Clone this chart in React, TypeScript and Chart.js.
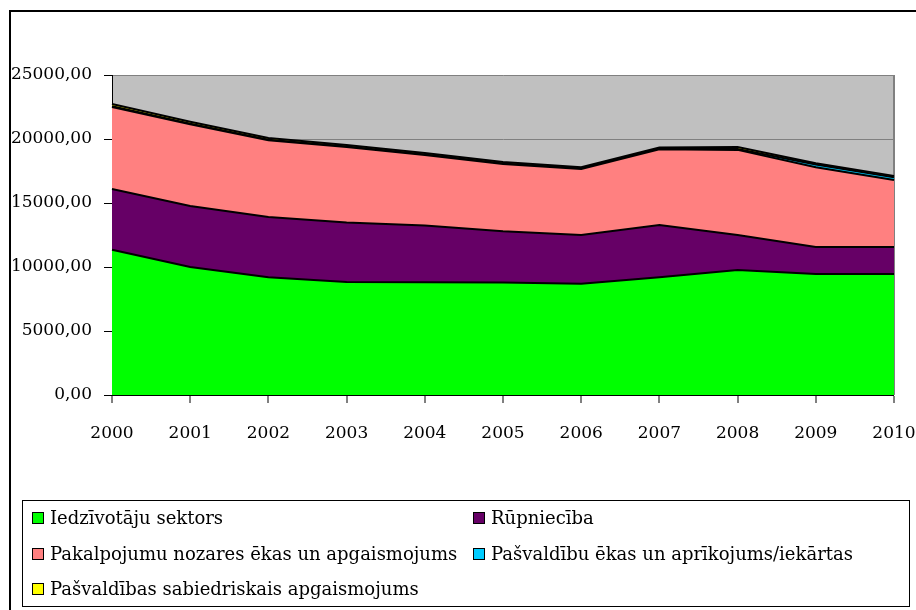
import React, { useEffect, useRef } from "react";
import { Chart, registerables } from "chart.js";

Chart.register(...registerables);

const years = ["2000", "2001", "2002", "2003", "2004", "2005", "2006", "2007", "2008", "2009", "2010"];
const residential = [11350, 10000, 9200, 8820, 8800, 8780, 8700, 9200, 9770, 9450, 9450];
const industry = [4750, 4770, 4700, 4660, 4450, 4020, 3800, 4080, 2730, 2110, 2110];
const services = [6400, 6380, 6000, 5900, 5500, 5250, 5150, 5920, 6650, 6240, 5240];
const municipalBuildings = [60, 50, 50, 40, 40, 40, 40, 30, 60, 200, 220];
const streetLighting = [170, 150, 130, 120, 110, 110, 110, 100, 170, 110, 100];

const seriesLabels = [
  "Iedzīvotāju sektors",
  "Rūpniecība",
  "Pakalpojumu nozares ēkas un apgaismojums",
  "Pašvaldību ēkas un aprīkojums/iekārtas",
  "Pašvaldības sabiedriskais apgaismojums",
];
const seriesColors = ["#00FF00", "#660066", "#FF8080", "#00CCFF", "#FFFF00"];
const seriesValues = [residential, industry, services, municipalBuildings, streetLighting];

const yTicks = [0, 5000, 10000, 15000, 20000, 25000];

const FONT = "'DejaVu Serif', serif";

const framePlugin = {
  id: "frame",
  beforeDraw(chart: any) {
    const { ctx, chartArea } = chart;
    ctx.save();
    ctx.fillStyle = "#ffffff";
    ctx.fillRect(0, 0, chart.width, chart.height);
    ctx.fillStyle = "#C0C0C0";
    ctx.fillRect(chartArea.left, chartArea.top, chartArea.right - chartArea.left, chartArea.bottom - chartArea.top);
    ctx.restore();
  },
  afterDraw(chart: any) {
    const { ctx } = chart;
    ctx.save();
    // outer frame
    ctx.strokeStyle = "#000";
    ctx.lineWidth = 2;
    ctx.strokeRect(10, 11, chart.width + 20, chart.height + 20);
    // legend box
    ctx.lineWidth = 1;
    ctx.strokeStyle = "#000";
    ctx.strokeRect(22.5, 500.5, 887, 106);
    const cols = [32, 473];
    const rows = [518, 554, 589];
    ctx.font = "18px " + FONT;
    ctx.textBaseline = "middle";
    ctx.textAlign = "left";
    chart.data.datasets.forEach((ds: any, i: number) => {
      const x = cols[i % 2];
      const y = rows[Math.floor(i / 2)];
      ctx.fillStyle = ds.backgroundColor;
      ctx.fillRect(x, y - 6, 12, 12);
      ctx.strokeStyle = "#000";
      ctx.strokeRect(x + 0.5, y - 5.5, 11, 11);
      ctx.fillStyle = "#000";
      ctx.fillText(ds.label, x + 18, y + 1);
    });
    ctx.restore();
  },
};

export default function App() {
  const ref = useRef<HTMLCanvasElement>(null);
  useEffect(() => {
    document.body.style.margin = "0";
    const chart = new Chart(ref.current!, {
      type: "line",
      data: {
        labels: years,
        datasets: seriesValues.map((vals, i) => ({
          label: seriesLabels[i],
          data: vals,
          backgroundColor: seriesColors[i],
          borderColor: "#000",
          borderWidth: 2,
          fill: i === 0 ? "origin" : "-1",
          pointRadius: 0,
          tension: 0,
        })),
      },
      options: {
        animation: false,
        responsive: false,
        layout: { padding: { left: 0, top: 75, right: 22, bottom: 155 } },
        plugins: { legend: { display: false }, tooltip: { enabled: false } },
        scales: {
          x: {
            offset: false,
            afterFit: (s: any) => {
              s.height = 60;
              s.paddingLeft = 0;
              s.paddingRight = 0;
            },
            grid: {
              drawOnChartArea: true,
              color: (c: any) => (c.index === years.length - 1 ? "#808080" : "rgba(0,0,0,0)"),
              lineWidth: (c: any) => (c.index === years.length - 1 ? 2 : 0),
              tickColor: "#000",
              tickWidth: 1,
              tickLength: 8,
            },
            border: { color: "#000", width: 1 },
            ticks: { color: "#000", font: { family: FONT, size: 17 }, padding: 20, maxRotation: 0, autoSkip: false },
          },
          y: {
            stacked: true,
            min: 0,
            max: 25000,
            afterFit: (s: any) => { s.width = 112; },
            afterBuildTicks: (s: any) => { s.ticks = yTicks.map((v) => ({ value: v })); },
            grid: { color: "#808080", lineWidth: 1, tickColor: "#000", tickWidth: 1, tickLength: 8 },
            border: { color: "#000", width: 1 },
            ticks: {
              color: "#000",
              font: { family: FONT, size: 17 },
              padding: 12,
              callback: (v: any) => Number(v).toFixed(2).replace(".", ","),
            },
          },
        },
      },
      plugins: [framePlugin],
    });
    return () => chart.destroy();
  }, []);
  return <canvas ref={ref} width={916} height={610} style={{ display: "block", width: 916, height: 610 }} />;
}
